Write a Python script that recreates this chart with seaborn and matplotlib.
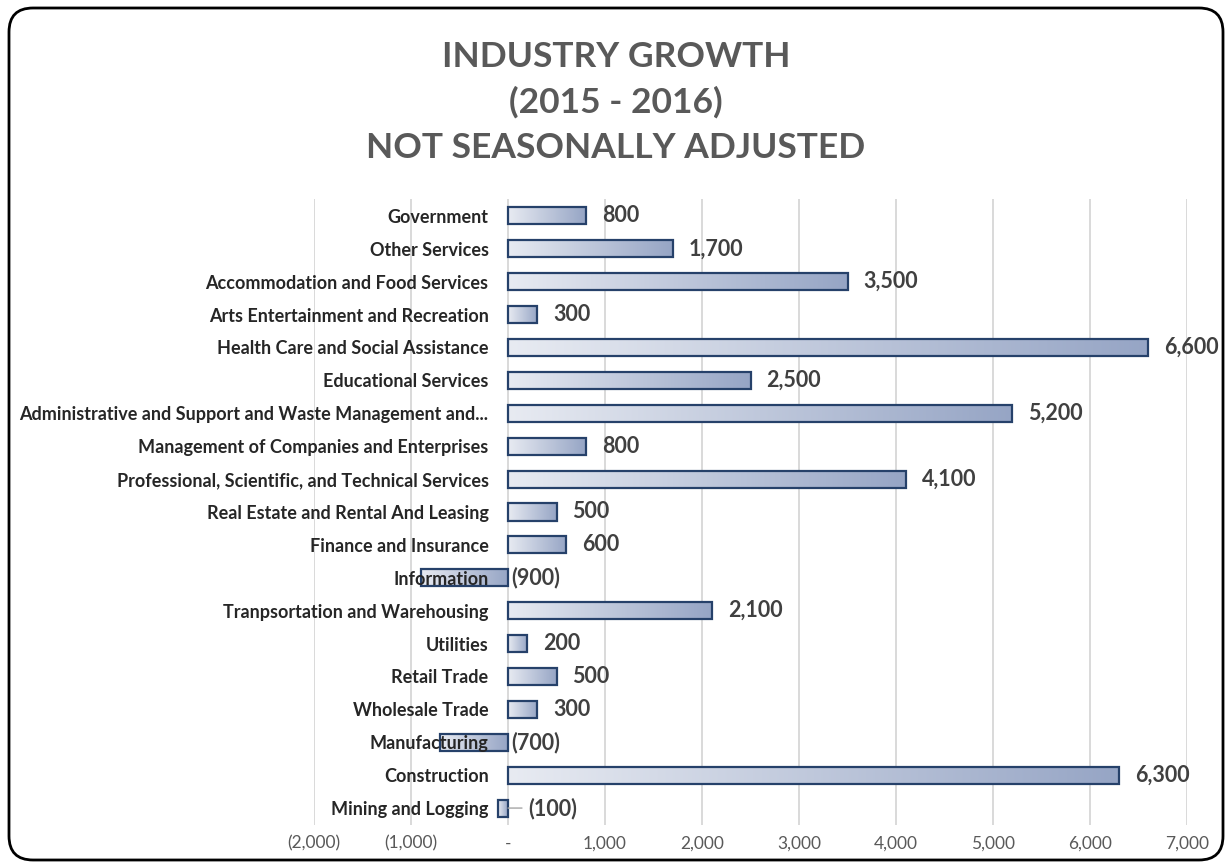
import numpy as np
import pandas as pd
import matplotlib
matplotlib.use("Agg")
import matplotlib.pyplot as plt
import seaborn as sns
from matplotlib.colors import LinearSegmentedColormap
from matplotlib.patches import FancyBboxPatch
from matplotlib.transforms import offset_copy, IdentityTransform

# data
industries = [
    "Government",
    "Other Services",
    "Accommodation and Food Services",
    "Arts Entertainment and Recreation",
    "Health Care and Social Assistance",
    "Educational Services",
    "Administrative and Support and Waste Management and...",
    "Management of Companies and Enterprises",
    "Professional, Scientific, and Technical Services",
    "Real Estate and Rental And Leasing",
    "Finance and Insurance",
    "Information",
    "Tranpsortation and Warehousing",
    "Utilities",
    "Retail Trade",
    "Wholesale Trade",
    "Manufacturing",
    "Construction",
    "Mining and Logging",
]
growth = [800, 1700, 3500, 300, 6600, 2500, 5200, 800, 4100, 500,
          600, -900, 2100, 200, 500, 300, -700, 6300, -100]
x_ticks = [-2000, -1000, 0, 1000, 2000, 3000, 4000, 5000, 6000, 7000]
x_tick_labels = ["(2,000)", "(1,000)", "-", "1,000", "2,000", "3,000",
                 "4,000", "5,000", "6,000", "7,000"]

df = pd.DataFrame({"industry": industries, "growth": growth})

sns.set_theme(style="white")
plt.rcParams["font.family"] = ["Lato", "DejaVu Sans"]

fig = plt.figure(figsize=(12.32, 8.67), dpi=100)
ax = fig.add_axes([0.2549, 0.049, 0.7086, 0.721])

sns.barplot(data=df, x="growth", y="industry", orient="h", width=0.52,
            color="#b0bcd4", edgecolor="#26416a", linewidth=1.6, ax=ax)

# horizontal gradient inside each bar (light on the left -> darker on the right)
cmap = LinearSegmentedColormap.from_list("bar", ["#e8ebf2", "#96a5c5"])
grad = np.linspace(0, 1, 256).reshape(1, -1)
for p in ax.patches:
    x0, y0 = p.get_x(), p.get_y()
    w, h = p.get_width(), p.get_height()
    left, right = min(x0, x0 + w), max(x0, x0 + w)
    im = ax.imshow(grad, cmap=cmap, aspect="auto", zorder=2,
                   extent=(left, right, y0 + h, y0), interpolation="bicubic")
    im.set_clip_path(p)
    p.set_facecolor("none")
    p.set_zorder(3)

ax.set_xlim(-2000, 7000)
ax.set_ylim(len(industries) - 0.5, -0.5)

# value labels
for i, v in enumerate(growth):
    txt = f"{v:,}" if v > 0 else f"({abs(v):,})"
    if v > 0:
        tr = offset_copy(ax.transData, fig=fig, x=16, y=0, units="dots")
        ax.text(v, i, txt, transform=tr, ha="left", va="center",
                fontsize=15.5, fontweight="bold", color="#404040", zorder=5)
    elif abs(v) < 300:
        # small negative bar: label pushed right with a short leader line
        ax.annotate(txt, xy=(0, i), xytext=(20, 0), textcoords="offset pixels",
                    ha="left", va="center", fontsize=15.5, fontweight="bold",
                    color="#404040", zorder=5,
                    arrowprops=dict(arrowstyle="-", color="#a6a6a6", lw=1,
                                    shrinkA=2, shrinkB=0))
    else:
        tr = offset_copy(ax.transData, fig=fig, x=3, y=0, units="dots")
        ax.text(0, i, txt, transform=tr, ha="left", va="center",
                fontsize=15.5, fontweight="bold", color="#404040", zorder=5)

# category axis sits at zero, like the original; its labels drawn over the bars
ax.spines["left"].set_position(("data", 0))
for s in ["left", "right", "top", "bottom"]:
    ax.spines[s].set_visible(False)
ax.tick_params(axis="y", length=0, pad=14, labelsize=13, labelcolor="#262626")
for lab in ax.get_yticklabels():
    lab.set_fontweight("bold")

ax.set_xticks(x_ticks)
ax.set_xticklabels(x_tick_labels)
ax.tick_params(axis="x", length=0, pad=8, labelsize=12.5, labelcolor="#595959")
ax.xaxis.grid(True, color="#d9d9d9", linewidth=1.4)
ax.set_axisbelow(True)
ax.yaxis.set_zorder(6)
ax.set_xlabel("")
ax.set_ylabel("")

fig.text(0.5, 0.953, "INDUSTRY GROWTH\n(2015 - 2016)\nNOT SEASONALLY ADJUSTED",
         ha="center", va="top", fontsize=25.5, fontweight="bold",
         color="#595959", linespacing=1.5)

frame = FancyBboxPatch((9, 7), 1214, 852, transform=IdentityTransform(),
                       boxstyle="round,pad=0,rounding_size=24",
                       facecolor="none", edgecolor="black", linewidth=2)
fig.patches.append(frame)

fig.savefig("out.png", dpi=100)
